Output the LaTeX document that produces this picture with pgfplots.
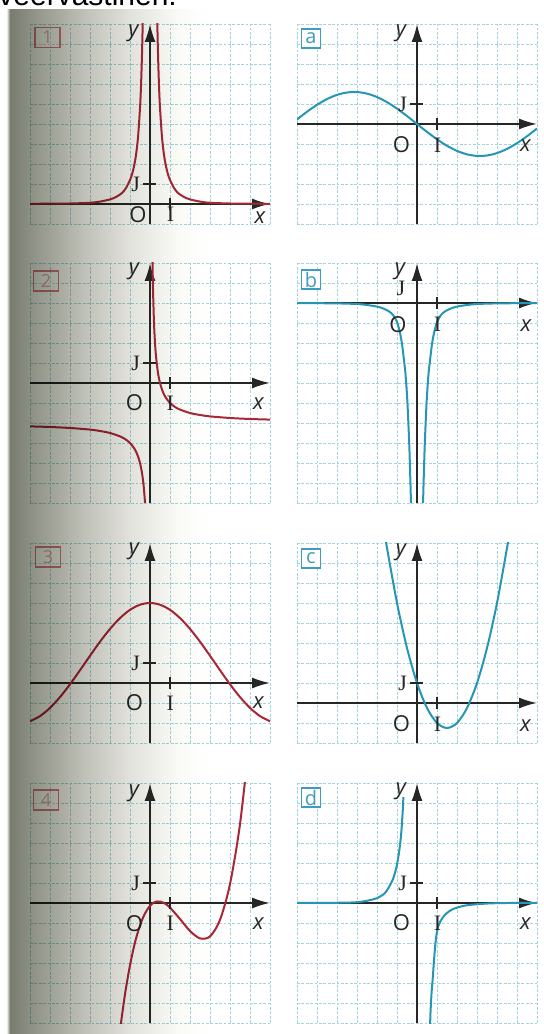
\documentclass[border=0pt]{standalone}
\usepackage{pgfplots}
\pgfplotsset{compat=1.18}
\usetikzlibrary{arrows.meta}
\usepackage{fontspec}
\setmainfont{Open Sans}
\newfontfamily\serif{Liberation Serif}
\newfontfamily\topfont{Liberation Sans}

\definecolor{gridc}{RGB}{165,212,222}
\definecolor{curvered}{RGB}{168,40,54}
\definecolor{curvecyan}{RGB}{38,150,182}
\definecolor{boxcyan}{RGB}{60,158,188}
\definecolor{boxred}{RGB}{200,70,80}
\definecolor{sh0}{RGB}{235,235,230}
\definecolor{sh1}{RGB}{120,124,112}
\definecolor{sh2}{RGB}{150,153,142}
\definecolor{sh3}{RGB}{190,191,182}
\definecolor{sh4}{RGB}{228,228,222}
\definecolor{sh5}{RGB}{250,250,247}

% gutter shadow of the bound page
\pgfdeclarehorizontalshading{gutter}{100bp}{%
  color(0bp)=(sh0); color(25bp)=(sh0); color(25.74bp)=(sh1);
  color(33.13bp)=(sh2); color(43.72bp)=(sh3); color(56.03bp)=(sh4);
  color(67.59bp)=(sh5); color(75bp)=(white); color(100bp)=(white)}

\tikzset{lab/.style={inner sep=0pt, text=black!85, font=\fontsize{11}{11}\selectfont}}

\pgfplotsset{
  panel/.style={
    anchor=south west,
    scale only axis,
    x=10pt, y=10pt,
    xmin=-6, xmax=6,
    axis lines=middle,
    axis line style={line width=0.9pt, black!85, -{Latex[length=9pt,width=5.5pt]}},
    xtick={-6,...,6}, ytick={-10,...,10},
    xticklabels={}, yticklabels={},
    major tick length=0pt,
    grid=major,
    major grid style={line width=0.45pt, gridc, dash pattern=on 1.4pt off 0.8pt},
    clip mode=individual,
    every axis plot/.append style={line width=1pt, smooth, mark=none},
  },
}

% unit ticks and the labels O, I, J, x, y
\newcommand{\unitmarks}[3]{%
  \draw[line width=0.8pt, black!85] (axis cs:1,-0.3) -- (axis cs:1,0.3);
  \draw[line width=0.8pt, black!85] (axis cs:-0.35,1) -- (axis cs:0.3,1);
  \node[lab] at (axis cs:-0.78,#2) {O};
  \node[lab] at (axis cs:1.02,#2) {\serif I};
  \node[lab] at (axis cs:-0.72,1) {\serif J};
  \node[lab] at (axis cs:5.42,#3) {\itshape x};
  \node[lab] at (axis cs:-0.8,#1) {\itshape y};
}
\newcommand{\redbox}[3]{%
  \node[draw=boxred, draw opacity=0.7, fill=white, fill opacity=0.3, text opacity=0.45,
        text=boxred, line width=0.7pt, minimum width=12.5pt, minimum height=10pt,
        inner sep=0pt, font=\fontsize{9}{9}\selectfont] at (axis cs:#1,#2) {#3};
}
\newcommand{\cyanbox}[3]{%
  \node[draw=boxcyan, fill=white, text=boxcyan, line width=0.6pt, minimum size=9.5pt,
        inner sep=0pt, font=\fontsize{10}{10}\selectfont] at (axis cs:#1,#2) {#3};
}

\begin{document}
\begin{tikzpicture}
\path[use as bounding box] (0,0) rectangle (272pt,517pt);
\node[anchor=base west, inner sep=0pt, font=\topfont\fontsize{15}{15}\selectfont] at (-1pt,514pt) {veervastinen:};

% ---------- row 1 ----------
\begin{axis}[panel, at={(15pt,405pt)}, ymin=-1, ymax=9]
  \addplot[curvered] coordinates {(-6,0.01) (-5,0.015) (-4,0.025) (-3,0.06) (-2.5,0.12) (-2,0.23) (-1.7,0.35) (-1.4,0.55) (-1.2,0.8) (-1,1.2) (-0.9,1.48) (-0.8,1.88) (-0.7,2.45) (-0.6,3.33) (-0.5,4.8) (-0.45,5.9) (-0.4,7.5) (-0.36,9.26) (-0.33,11)};
  \addplot[curvered] coordinates {(0.33,11) (0.36,9.26) (0.4,7.5) (0.45,5.9) (0.5,4.8) (0.6,3.33) (0.7,2.45) (0.8,1.88) (0.9,1.48) (1,1.2) (1.2,0.8) (1.4,0.55) (1.7,0.35) (2,0.23) (2.5,0.12) (3,0.06) (4,0.025) (5,0.015) (6,0.01)};
  \draw[line width=0.8pt, black!85] (axis cs:1,-0.3) -- (axis cs:1,0.3);
  \draw[line width=0.8pt, black!85] (axis cs:-0.35,1) -- (axis cs:0.3,1);
  \node[lab] at (axis cs:-0.6,-0.52) {O};
  \node[lab] at (axis cs:1.03,-0.52) {\serif I};
  \node[lab] at (axis cs:-0.72,1) {\serif J};
  \node[lab] at (axis cs:5.5,-0.7) {\itshape x};
  \node[lab] at (axis cs:-0.83,8.55) {\itshape y};
  \redbox{-5.13}{8.33}{1}
\end{axis}

\begin{axis}[panel, at={(148.5pt,405pt)}, ymin=-5, ymax=5]
  \addplot[curvecyan] coordinates {(-6,0.226) (-5.5,0.611) (-5,0.958) (-4.5,1.245) (-4,1.455) (-3.5,1.574) (-3,1.596) (-2.5,1.518) (-2,1.346) (-1.5,1.091) (-1,0.767) (-0.5,0.396) (0,0) (0.5,-0.396) (1,-0.767) (1.5,-1.091) (2,-1.346) (2.5,-1.518) (3,-1.596) (3.5,-1.574) (4,-1.455) (4.5,-1.245) (5,-0.958) (5.5,-0.611) (6,-0.226)};
  \unitmarks{4.55}{-1.05}{-1.1}
  \cyanbox{-5.3}{4.27}{a}
\end{axis}

% ---------- row 2 ----------
\begin{axis}[panel, at={(15pt,265.5pt)}, ymin=-6, ymax=6]
  \addplot[curvered] coordinates {(-6,-2.17) (-5,-2.2) (-4,-2.25) (-3,-2.33) (-2.5,-2.4) (-2,-2.5) (-1.5,-2.67) (-1.25,-2.8) (-1,-3) (-0.75,-3.33) (-0.6,-3.67) (-0.5,-4) (-0.4,-4.5) (-0.33,-5.03) (-0.28,-5.57) (-0.25,-6) (-0.22,-6.55)};
  \addplot[curvered] coordinates {(0.11,7.09) (0.125,6) (0.15,4.67) (0.2,3) (0.25,2) (0.3,1.33) (0.4,0.5) (0.5,0) (0.6,-0.33) (0.75,-0.67) (1,-1) (1.25,-1.2) (1.5,-1.33) (2,-1.5) (2.5,-1.6) (3,-1.67) (4,-1.75) (5,-1.8) (6,-1.83)};
  \unitmarks{5.58}{-1.0}{-1.03}
  \redbox{-5.2}{5.1}{2}
\end{axis}

\begin{axis}[panel, at={(148.5pt,265.5pt)}, ymin=-10, ymax=2]
  \addplot[curvecyan] coordinates {(-6,0) (-5,-0.01) (-4,-0.02) (-3,-0.05) (-2.5,-0.1) (-2,-0.18) (-1.7,-0.27) (-1.4,-0.42) (-1.2,-0.6) (-1,-0.95) (-0.85,-1.5) (-0.75,-2.05) (-0.67,-2.7) (-0.58,-3.5) (-0.5,-4.6) (-0.45,-5.6) (-0.38,-7.3) (-0.3,-10) (-0.28,-10.7)};
  \addplot[curvecyan] coordinates {(0.28,-10.7) (0.3,-10) (0.38,-7.3) (0.45,-5.6) (0.5,-4.6) (0.58,-3.5) (0.67,-2.7) (0.75,-2.05) (0.85,-1.5) (1,-0.95) (1.2,-0.6) (1.4,-0.42) (1.7,-0.27) (2,-0.18) (2.5,-0.1) (3,-0.05) (4,-0.02) (5,-0.01) (6,0)};
  \draw[line width=0.8pt, black!85] (axis cs:1,-0.3) -- (axis cs:1,0.3);
  \node[lab] at (axis cs:-0.95,-1.08) {O};
  \node[lab] at (axis cs:1.03,-1.08) {\serif I};
  \node[lab] at (axis cs:-0.8,0.75) {\serif J};
  \node[lab] at (axis cs:5.45,-1.15) {\itshape x};
  \node[lab] at (axis cs:-0.85,1.6) {\itshape y};
  \cyanbox{-5.3}{1.17}{b}
\end{axis}

% ---------- row 3 ----------
\begin{axis}[panel, at={(15pt,145.5pt)}, ymin=-3, ymax=7]
  \addplot[curvered] coordinates {(-6,-1.913) (-5.5,-1.657) (-5,-1.245) (-4.5,-0.704) (-4,-0.064) (-3.5,0.639) (-3,1.361) (-2.5,2.064) (-2,2.704) (-1.5,3.245) (-1,3.657) (-0.5,3.913) (0,4) (0.5,3.913) (1,3.657) (1.5,3.245) (2,2.704) (2.5,2.064) (3,1.361) (3.5,0.639) (4,-0.064) (4.5,-0.704) (5,-1.245) (5.5,-1.657) (6,-1.913)};
  \unitmarks{6.58}{-1.0}{-1.0}
  \redbox{-5.1}{6.3}{3}
\end{axis}

\begin{axis}[panel, at={(148.5pt,145.5pt)}, ymin=-2, ymax=8]
  \addplot[curvecyan] coordinates {(-1.6,8.36) (-1.5,7.75) (-1,5) (-0.5,2.75) (0,1) (0.5,-0.25) (1,-1) (1.5,-1.25) (2,-1) (2.5,-0.25) (3,1) (3.5,2.75) (4,5) (4.5,7.75) (4.6,8.36)};
  \unitmarks{7.55}{-1.05}{-1.15}
  \cyanbox{-5.3}{7.22}{c}
\end{axis}

% ---------- row 4 ----------
\begin{axis}[panel, at={(15pt,5.5pt)}, ymin=-6, ymax=6]
  \addplot[curvered] coordinates {(-1.5,-6.36) (-1.25,-4.56) (-1,-3.11) (-0.75,-1.97) (-0.5,-1.12) (-0.25,-0.52) (0,-0.14) (0.25,0.05) (0.5,0.07) (0.75,-0.03) (1,-0.23) (1.5,-0.8) (2,-1.4) (2.5,-1.77) (3,-1.67) (3.5,-0.84) (4,0.95) (4.5,3.95) (5,8.42)};
  \unitmarks{5.5}{-1.03}{-1.03}
  \redbox{-5.2}{5.15}{4}
\end{axis}

\begin{axis}[panel, at={(148.5pt,5.5pt)}, ymin=-6, ymax=6]
  \addplot[curvecyan] coordinates {(-6,0) (-4.5,0.005) (-3.5,0.02) (-3,0.04) (-2.5,0.11) (-2,0.24) (-1.8,0.35) (-1.6,0.5) (-1.4,0.8) (-1.2,1.2) (-1.05,1.7) (-0.95,2.2) (-0.85,2.9) (-0.78,3.6) (-0.72,4.5) (-0.68,5.3)};
  \addplot[curvecyan] coordinates {(0.64,-6.6) (0.67,-5.6) (0.72,-4.6) (0.78,-3.85) (0.87,-2.6) (0.95,-1.75) (1.05,-1.2) (1.15,-0.95) (1.37,-0.62) (1.6,-0.42) (1.8,-0.3) (2.45,-0.12) (3.45,-0.03) (4.5,0) (6,0)};
  \unitmarks{5.6}{-1.0}{-1.03}
  \cyanbox{-5.3}{5.27}{d}
\end{axis}

% shadow of the binding laid over the left column
\begin{scope}[blend mode=multiply]
  \shade[shading=gutter] (3.5pt,0pt) rectangle (105pt,512pt);
\end{scope}
\end{tikzpicture}
\end{document}
